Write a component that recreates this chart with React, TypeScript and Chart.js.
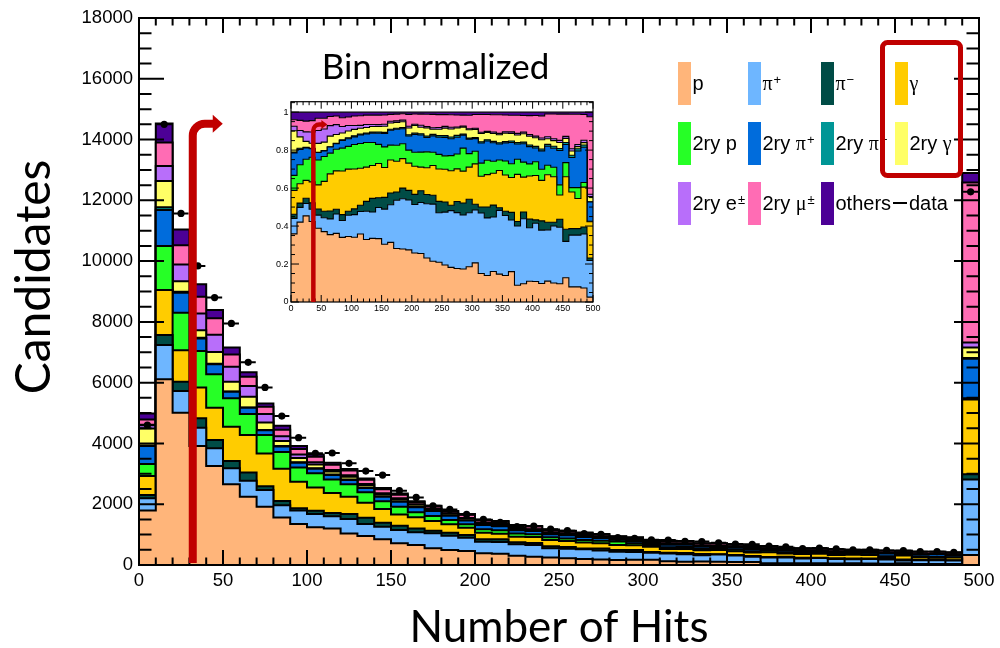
import React, { useEffect, useRef } from "react";
import { Chart, registerables } from "chart.js";

Chart.register(...registerables);

// ---------- bins (lower edges, width 10) ----------
const binLow = [0, 10, 20, 30, 40, 50, 60, 70, 80, 90, 100, 110, 120, 130, 140, 150, 160, 170, 180, 190, 200, 210, 220, 230, 240, 250, 260, 270, 280, 290, 300, 310, 320, 330, 340, 350, 360, 370, 380, 390, 400, 410, 420, 430, 440, 450, 460, 470, 480, 490];
const binWidth = 10;

// ---------- tick labels ----------
const xTickLabels = [0, 50, 100, 150, 200, 250, 300, 350, 400, 450, 500];
const yTickLabels = [0, 2000, 4000, 6000, 8000, 10000, 12000, 14000, 16000, 18000];
const insetYTickLabels = [0, 0.2, 0.4, 0.6, 0.8, 1];

// ---------- stacked series (candidates per bin) ----------
const pVals = [1790, 6110, 5010, 3915, 3260, 2655, 2250, 1920, 1560, 1350, 1240, 1205, 1040, 955, 845, 715, 660, 550, 495, 460, 385, 370, 305, 275, 245, 220, 195, 180, 165, 170, 170, 120, 110, 115, 105, 95, 100, 55, 55, 60, 60, 50, 55, 50, 45, 60, 35, 35, 30, 330];
const piPlusVals = [405, 1130, 715, 600, 580, 525, 525, 545, 410, 440, 435, 400, 470, 395, 415, 435, 415, 495, 470, 440, 380, 390, 375, 385, 305, 315, 320, 300, 270, 260, 230, 255, 240, 205, 240, 215, 170, 195, 195, 155, 170, 145, 135, 150, 140, 90, 120, 120, 115, 2485];
const piMinusVals = [110, 330, 305, 310, 270, 240, 265, 130, 140, 80, 110, 110, 165, 205, 130, 145, 130, 85, 100, 85, 80, 90, 65, 60, 70, 60, 30, 60, 60, 65, 25, 25, 45, 45, 10, 15, 25, 15, 20, 25, 10, 25, 20, 10, 20, 30, 15, 15, 15, 175];
const gammaVals = [625, 1480, 1040, 1020, 1065, 1130, 1240, 1075, 1055, 870, 765, 655, 570, 495, 455, 370, 365, 315, 275, 240, 220, 180, 185, 200, 200, 195, 195, 175, 160, 155, 175, 130, 135, 120, 140, 130, 115, 155, 105, 125, 130, 110, 125, 120, 60, 130, 85, 70, 85, 2460];
const secPVals = [395, 1450, 1230, 1200, 1100, 935, 690, 605, 550, 470, 470, 440, 410, 345, 255, 255, 165, 165, 140, 115, 110, 115, 110, 90, 90, 80, 85, 80, 115, 65, 55, 55, 60, 45, 40, 50, 45, 50, 45, 35, 40, 30, 25, 25, 25, 35, 10, 25, 10, 40];
const secPiPlusVals = [590, 1180, 660, 410, 330, 215, 205, 160, 185, 155, 145, 150, 140, 140, 150, 165, 165, 165, 140, 125, 140, 130, 100, 110, 105, 110, 95, 90, 65, 70, 55, 85, 80, 70, 60, 65, 70, 50, 55, 50, 40, 50, 50, 50, 85, 45, 70, 85, 75, 1300];
const secPiMinusVals = [20, 90, 30, 20, 15, 10, 10, 10, 20, 20, 20, 15, 15, 15, 15, 15, 10, 10, 10, 10, 10, 10, 10, 10, 10, 10, 10, 10, 5, 5, 5, 5, 5, 5, 5, 5, 5, 5, 5, 5, 5, 5, 5, 5, 5, 5, 5, 5, 5, 20];
const secGammaVals = [560, 870, 350, 250, 390, 320, 355, 245, 160, 140, 125, 105, 95, 85, 75, 75, 70, 60, 55, 60, 60, 50, 55, 35, 40, 45, 45, 40, 35, 40, 35, 35, 30, 30, 30, 30, 25, 25, 25, 25, 25, 25, 15, 15, 15, 10, 10, 5, 5, 350];
const secEVals = [120, 490, 550, 550, 570, 495, 350, 275, 160, 115, 75, 50, 50, 30, 25, 25, 20, 15, 15, 15, 10, 15, 10, 10, 10, 10, 10, 5, 5, 5, 5, 5, 5, 5, 5, 5, 5, 5, 5, 5, 5, 5, 5, 5, 5, 5, 5, 5, 5, 165];
const secMuVals = [170, 770, 630, 550, 540, 405, 305, 240, 210, 175, 180, 170, 155, 140, 125, 115, 75, 70, 60, 105, 80, 85, 85, 90, 80, 70, 70, 65, 55, 65, 60, 75, 70, 65, 70, 60, 55, 60, 50, 55, 60, 60, 60, 65, 65, 55, 80, 70, 55, 5265];
const othersVals = [200, 630, 520, 415, 270, 230, 145, 110, 135, 100, 75, 65, 50, 45, 40, 35, 25, 20, 15, 20, 15, 15, 15, 15, 15, 15, 15, 15, 15, 15, 10, 10, 10, 10, 10, 10, 10, 10, 10, 10, 10, 10, 5, 5, 5, 5, 5, 5, 5, 310];

// ---------- data points ----------
const dataVals = [4600, 14500, 11570, 9840, 8800, 7950, 6670, 5845, 4900, 4190, 3675, 3685, 3345, 3090, 2960, 2445, 2225, 1950, 1830, 1665, 1500, 1400, 1260, 1280, 1180, 1130, 1030, 1010, 900, 880, 830, 820, 780, 770, 730, 690, 680, 625, 600, 540, 560, 530, 500, 500, 480, 470, 440, 440, 420, 12280];

const seriesNames = ["p", "π+", "π−", "γ", "2ry p", "2ry π+", "2ry π−", "2ry γ", "2ry e±", "2ry μ±", "others"];
const legendLabels = ["p", "π^+", "π^−", "γ", "2ry p", "2ry π^+", "2ry π^−", "2ry γ", "2ry e^±", "2ry μ^±", "others", "data"];
const layerValues = [pVals, piPlusVals, piMinusVals, gammaVals, secPVals, secPiPlusVals, secPiMinusVals, secGammaVals, secEVals, secMuVals, othersVals];
const layerColors = ["#FFB57A", "#6EB6FF", "#004C46", "#FFCC00", "#26FF26", "#006CDC", "#009696", "#FFFF66", "#B86EFA", "#FF6CB4", "#4C0096"];

const RED = "#C00000";
const SANS = "'Liberation Sans', Arial, sans-serif";
const SERIF = "'Liberation Serif', 'DejaVu Serif', serif";
const TITLE_FONT = "Lato, 'Open Sans', sans-serif";

function stepPoints(values: number[]) {
  const pts = binLow.map((x, k) => ({ x, y: values[k] }));
  pts.push({ x: binLow[binLow.length - 1] + binWidth, y: values[values.length - 1] });
  return pts;
}

function drawRootAxes(chart: any, c: any) {
  const { ctx, chartArea: a } = chart;
  const xs = chart.scales.x;
  const ys = chart.scales.y;
  ctx.save();
  ctx.strokeStyle = "#000";
  ctx.lineWidth = c.tick;
  ctx.beginPath();
  const nx = Math.round((xs.max - xs.min) / c.xMinor);
  for (let i = 0; i <= nx; i++) {
    const px = xs.getPixelForValue(xs.min + i * c.xMinor);
    const len = i % c.xMajorEvery === 0 ? c.xMajLen : c.xMinLen;
    ctx.moveTo(px, a.bottom);
    ctx.lineTo(px, a.bottom - len);
    ctx.moveTo(px, a.top);
    ctx.lineTo(px, a.top + len);
  }
  const ny = Math.floor((ys.max - ys.min) / c.yMinor + 1e-6);
  for (let i = 0; i <= ny; i++) {
    const py = ys.getPixelForValue(ys.min + i * c.yMinor);
    const len = i % c.yMajorEvery === 0 ? c.yMajLen : c.yMinLen;
    ctx.moveTo(a.left, py);
    ctx.lineTo(a.left + len, py);
    ctx.moveTo(a.right, py);
    ctx.lineTo(a.right - len, py);
  }
  ctx.stroke();
  ctx.lineWidth = c.frame;
  ctx.strokeRect(a.left, a.top, a.right - a.left, a.bottom - a.top);
  ctx.restore();
}

function drawRich(ctx: CanvasRenderingContext2D, x: number, baseline: number, label: string, size: number) {
  const [base, sup] = label.split("^");
  let cx = x;
  for (const ch of base) {
    const greek = /[πγμ]/.test(ch);
    ctx.font = `${size}px ${greek ? SERIF : SANS}`;
    ctx.fillText(ch, cx, baseline);
    cx += ctx.measureText(ch).width;
  }
  if (sup) {
    ctx.font = `${Math.round(size * 0.65)}px ${SANS}`;
    ctx.fillText(sup, cx + 1, baseline - 6);
  }
}

const legendCols = [678, 748, 821, 895];
const legendRows = [62, 122, 182];

const mainDecor = {
  id: "mainDecor",
  afterDatasetsDraw(chart: any) {
    const { ctx } = chart;
    const xs = chart.scales.x;
    const ys = chart.scales.y;
    ctx.save();
    ctx.strokeStyle = "#000";
    ctx.lineWidth = 2;
    ctx.beginPath();
    binLow.forEach((lo, k) => {
      const py = ys.getPixelForValue(dataVals[k]);
      ctx.moveTo(xs.getPixelForValue(lo + 0.5), py);
      ctx.lineTo(xs.getPixelForValue(lo + binWidth - 0.5), py);
    });
    ctx.stroke();
    ctx.restore();
  },
  afterDraw(chart: any) {
    const { ctx } = chart;
    const xs = chart.scales.x;
    const ys = chart.scales.y;
    drawRootAxes(chart, {
      frame: 2, tick: 2,
      xMinor: 10, xMajorEvery: 5, xMajLen: 15, xMinLen: 7.5,
      yMinor: 500, yMajorEvery: 4, yMajLen: 25, yMinLen: 12.5,
    });

    // legend
    ctx.save();
    ctx.fillStyle = "#000";
    ctx.textBaseline = "alphabetic";
    legendLabels.forEach((lab, i) => {
      const col = i % 4;
      const row = Math.floor(i / 4);
      const mx = legendCols[col];
      const my = legendRows[row];
      if (i < layerColors.length) {
        ctx.fillStyle = layerColors[i];
        ctx.fillRect(mx, my, 13, 43);
        ctx.fillStyle = "#000";
        drawRich(ctx, mx + 14.5, my + 28, lab, 20);
      } else {
        ctx.strokeStyle = "#000";
        ctx.lineWidth = 2;
        ctx.beginPath();
        ctx.moveTo(mx - 2, my + 21);
        ctx.lineTo(mx + 12, my + 21);
        ctx.stroke();
        drawRich(ctx, mx + 14, my + 28, lab, 20);
      }
    });
    ctx.restore();

    // y-axis title
    ctx.save();
    ctx.fillStyle = "#000";
    ctx.font = `48px ${TITLE_FONT}`;
    ctx.textAlign = "center";
    ctx.textBaseline = "middle";
    ctx.translate(35, 277);
    ctx.rotate(-Math.PI / 2);
    ctx.fillText("Candidates", 0, 0);
    ctx.restore();

    // red annotations
    ctx.save();
    ctx.strokeStyle = RED;
    ctx.fillStyle = RED;
    ctx.lineWidth = 5;
    const bx = 882.5, by = 42.5, bw = 78, bh = 133, r = 5;
    ctx.beginPath();
    ctx.moveTo(bx + r, by);
    ctx.lineTo(bx + bw - r, by);
    ctx.arcTo(bx + bw, by, bx + bw, by + r, r);
    ctx.lineTo(bx + bw, by + bh - r);
    ctx.arcTo(bx + bw, by + bh, bx + bw - r, by + bh, r);
    ctx.lineTo(bx + r, by + bh);
    ctx.arcTo(bx, by + bh, bx, by + bh - r, r);
    ctx.lineTo(bx, by + r);
    ctx.arcTo(bx, by, bx + r, by, r);
    ctx.closePath();
    ctx.stroke();
    const ax = xs.getPixelForValue(32);
    const ay0 = ys.getPixelForValue(0) - 2;
    const ayH = ys.getPixelForValue(14520);
    ctx.lineWidth = 8;
    ctx.lineCap = "butt";
    ctx.beginPath();
    ctx.moveTo(ax, ay0);
    ctx.lineTo(ax, ayH + 14);
    ctx.arcTo(ax, ayH, ax + 14, ayH, 12);
    ctx.lineTo(ax + 21, ayH);
    ctx.stroke();
    ctx.beginPath();
    ctx.moveTo(ax + 20, ayH - 9);
    ctx.lineTo(ax + 30, ayH);
    ctx.lineTo(ax + 20, ayH + 9);
    ctx.closePath();
    ctx.fill();
    ctx.restore();
  },
};

const insetDecor = {
  id: "insetDecor",
  afterDraw(chart: any) {
    const { ctx } = chart;
    const xs = chart.scales.x;
    const ys = chart.scales.y;
    drawRootAxes(chart, {
      frame: 1.2, tick: 1,
      xMinor: 10, xMajorEvery: 5, xMajLen: 7, xMinLen: 3.5,
      yMinor: 0.05, yMajorEvery: 4, yMajLen: 8, yMinLen: 4,
    });
    const rx = xs.getPixelForValue(37);
    const ry0 = ys.getPixelForValue(0);
    const ryH = ys.getPixelForValue(0.935);
    ctx.save();
    ctx.strokeStyle = RED;
    ctx.fillStyle = RED;
    ctx.lineWidth = 4.5;
    ctx.beginPath();
    ctx.moveTo(rx, ry0);
    ctx.lineTo(rx, ryH + 7);
    ctx.arcTo(rx, ryH, rx + 7, ryH, 6);
    ctx.lineTo(rx + 9, ryH);
    ctx.stroke();
    ctx.beginPath();
    ctx.moveTo(rx + 8, ryH - 4.5);
    ctx.lineTo(rx + 14, ryH);
    ctx.lineTo(rx + 8, ryH + 4.5);
    ctx.closePath();
    ctx.fill();
    ctx.restore();
  },
};

function mainConfig(): any {
  const datasets: any[] = layerValues.map((vals, i) => ({
    type: "line",
    label: seriesNames[i],
    data: stepPoints(vals),
    stepped: true,
    fill: i === 0 ? "origin" : "-1",
    backgroundColor: layerColors[i],
    borderColor: "#000",
    borderWidth: 2,
    pointRadius: 0,
    stack: "mc",
    order: 1,
  }));
  datasets.push({
    type: "scatter",
    label: "data",
    data: binLow.map((lo, k) => ({ x: lo + binWidth / 2, y: dataVals[k] })),
    pointRadius: 3.6,
    pointBackgroundColor: "#000",
    pointBorderColor: "#000",
    pointBorderWidth: 0,
    stack: "data",
    order: 0,
  });
  return {
    type: "line",
    data: { datasets },
    plugins: [mainDecor],
    options: {
      animation: false,
      responsive: false,
      maintainAspectRatio: false,
      events: [],
      layout: { padding: { left: 0, right: 21, top: 18, bottom: 0 } },
      plugins: { legend: { display: false }, tooltip: { enabled: false }, title: { display: false } },
      scales: {
        x: {
          type: "linear",
          min: 0,
          max: 500,
          grid: { display: false, drawTicks: false },
          border: { display: false },
          afterBuildTicks: (s: any) => { s.ticks = xTickLabels.map((v) => ({ value: v })); },
          afterFit: (s: any) => { s.height = 83; },
          ticks: {
            color: "#000",
            font: { family: SANS, size: 18.5 },
            padding: 5,
            maxRotation: 0,
            autoSkip: false,
            callback: (v: any) => String(v),
          },
          title: {
            display: true,
            text: "Number of Hits",
            color: "#000",
            font: { family: TITLE_FONT, size: 44, lineHeight: 0.9 },
            padding: { top: 0, bottom: 0 },
          },
        },
        y: {
          type: "linear",
          stacked: true,
          min: 0,
          max: 18000,
          grid: { display: false, drawTicks: false },
          border: { display: false },
          afterBuildTicks: (s: any) => { s.ticks = yTickLabels.map((v) => ({ value: v })); },
          afterFit: (s: any) => { s.width = 139; },
          ticks: {
            color: "#000",
            font: { family: SANS, size: 18.5 },
            padding: 6,
            autoSkip: false,
            callback: (v: any) => String(v),
          },
        },
      },
    },
  };
}

function insetConfig(): any {
  const totals = binLow.map((_, k) => layerValues.reduce((s, arr) => s + arr[k], 0));
  const datasets = layerValues.map((vals, i) => ({
    type: "line",
    label: seriesNames[i],
    data: stepPoints(vals.map((v, k) => v / totals[k])),
    stepped: true,
    fill: i === 0 ? "origin" : "-1",
    backgroundColor: layerColors[i],
    borderColor: "#000",
    borderWidth: 1.1,
    pointRadius: 0,
    stack: "norm",
  }));
  return {
    type: "line",
    data: { datasets },
    plugins: [insetDecor],
    options: {
      animation: false,
      responsive: false,
      maintainAspectRatio: false,
      events: [],
      layout: { padding: { left: 0, right: 0, top: 0, bottom: 0 } },
      plugins: {
        legend: { display: false },
        tooltip: { enabled: false },
        title: {
          display: true,
          text: "Bin normalized",
          color: "#000",
          font: { family: TITLE_FONT, size: 35, lineHeight: 1.2, weight: "normal" },
          padding: { top: 7, bottom: 12.7 },
        },
      },
      scales: {
        x: {
          type: "linear",
          min: 0,
          max: 500,
          grid: { display: false, drawTicks: false },
          border: { display: false },
          afterBuildTicks: (s: any) => { s.ticks = xTickLabels.map((v) => ({ value: v })); },
          afterFit: (s: any) => { s.height = 18; },
          ticks: {
            color: "#000",
            font: { family: SANS, size: 9 },
            padding: 1,
            maxRotation: 0,
            autoSkip: false,
            callback: (v: any) => String(v),
          },
        },
        y: {
          type: "linear",
          position: "left",
          stacked: true,
          min: 0,
          max: 1.055,
          grid: { display: false, drawTicks: false },
          border: { display: false },
          afterBuildTicks: (s: any) => { s.ticks = insetYTickLabels.map((v) => ({ value: v })); },
          afterFit: (s: any) => { s.width = 29; },
          ticks: {
            color: "#000",
            font: { family: SANS, size: 9 },
            padding: 2.5,
            autoSkip: false,
            callback: (v: any) => String(v),
          },
        },
        yRightSpacer: {
          type: "linear",
          position: "right",
          min: 0,
          max: 1,
          grid: { display: false, drawTicks: false },
          border: { display: false },
          ticks: { display: false },
          afterFit: (s: any) => { s.width = 16; },
        },
      },
    },
  };
}

export default function App() {
  const mainRef = useRef<HTMLCanvasElement>(null);
  const insetRef = useRef<HTMLCanvasElement>(null);
  useEffect(() => {
    const main = new Chart(mainRef.current as HTMLCanvasElement, mainConfig());
    const inset = new Chart(insetRef.current as HTMLCanvasElement, insetConfig());
    return () => {
      main.destroy();
      inset.destroy();
    };
  }, []);
  return (
    <div style={{ position: "fixed", left: 0, top: 0, width: 1000, height: 648, background: "#fff" }}>
      <canvas ref={mainRef} width={1000} height={648} style={{ position: "absolute", left: 0, top: 0, width: 1000, height: 648 }} />
      <canvas ref={insetRef} width={347} height={280} style={{ position: "absolute", left: 262, top: 40, width: 347, height: 280 }} />
    </div>
  );
}
